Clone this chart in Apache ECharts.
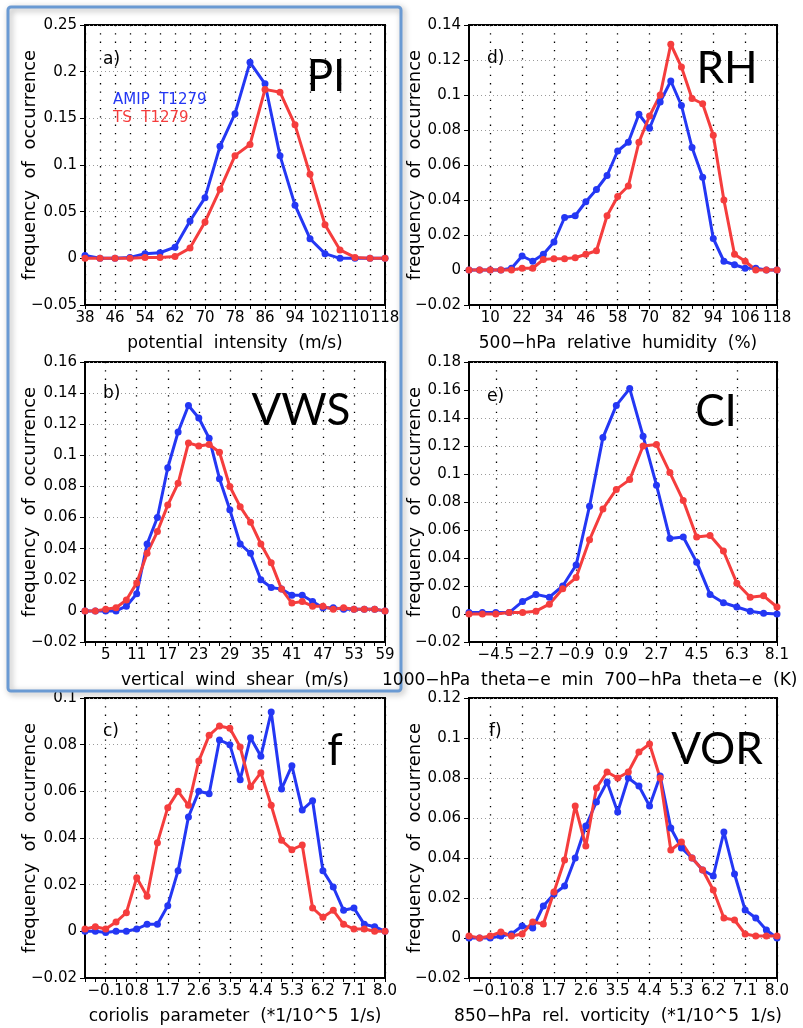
<!DOCTYPE html>
<html>
<head>
<meta charset="utf-8">
<script src="https://cdn.jsdelivr.net/npm/echarts@6/dist/echarts.min.js"></script>
<style>
  html, body { margin: 0; padding: 0; background: #fff; }
  #chart { width: 803px; height: 1028px; }
</style>
</head>
<body>
<div id="chart"></div>
<script>
// bins (x categories) of each histogram
const piBins = ['38','42','46','50','54','58','62','66','70','74','78','82','86','90','94','98','102','106','110','114','118'];
const piLabels = ['38','46','54','62','70','78','86','94','102','110','118'];
const piAmip = [0.003,0,0,0.001,0.005,0.006,0.012,0.04,0.065,0.12,0.155,0.21,0.187,0.11,0.057,0.021,0.005,0,0,0,0];
const piTs = [0,0,0,0,0.001,0.001,0.002,0.011,0.039,0.074,0.11,0.122,0.181,0.178,0.143,0.09,0.036,0.009,0.001,0,0];

const rhBins = ['2','6','10','14','18','22','26','30','34','38','42','46','50','54','58','62','66','70','74','78','82','86','90','94','98','102','106','110','114','118'];
const rhLabels = ['10','22','34','46','58','70','82','94','106','118'];
const rhAmip = [0,0,0,0,0.001,0.008,0.005,0.009,0.016,0.03,0.031,0.039,0.046,0.054,0.068,0.073,0.089,0.081,0.096,0.108,0.094,0.07,0.053,0.018,0.005,0.003,0.001,0.001,0,0];
const rhTs = [0,0,0,0,0,0.001,0.001,0.006,0.0065,0.0065,0.007,0.009,0.011,0.031,0.042,0.048,0.073,0.088,0.1,0.129,0.116,0.098,0.095,0.077,0.04,0.009,0.005,0,0,0];

const vwsBins = ['1','3','5','7','9','11','13','15','17','19','21','23','25','27','29','31','33','35','37','39','41','43','45','47','49','51','53','55','57','59'];
const vwsLabels = ['5','11','17','23','29','35','41','47','53','59'];
const vwsAmip = [0,0,0,0,0.003,0.011,0.043,0.06,0.092,0.115,0.132,0.124,0.111,0.085,0.065,0.043,0.037,0.02,0.015,0.014,0.01,0.01,0.006,0.002,0.002,0.001,0.001,0.001,0.001,0];
const vwsTs = [0,0,0.001,0.002,0.007,0.018,0.037,0.051,0.068,0.082,0.108,0.106,0.107,0.102,0.08,0.067,0.057,0.043,0.031,0.014,0.005,0.006,0.003,0.003,0.001,0.002,0.001,0.001,0.001,0];

const ciBins = ['-5.7','-5.1','-4.5','-3.9','-3.3','-2.7','-2.1','-1.5','-0.9','-0.3','0.3','0.9','1.5','2.1','2.7','3.3','3.9','4.5','5.1','5.7','6.3','6.9','7.5','8.1'];
const ciLabels = ['-4.5','-2.7','-0.9','0.9','2.7','4.5','6.3','8.1'];
const ciAmip = [0.001,0.001,0.001,0.001,0.009,0.014,0.012,0.02,0.035,0.077,0.126,0.149,0.161,0.127,0.092,0.054,0.055,0.037,0.014,0.008,0.005,0.002,0.0005,0];
const ciTs = [0,0,0,0.001,0.001,0.002,0.007,0.018,0.026,0.053,0.075,0.089,0.096,0.12,0.121,0.101,0.081,0.055,0.056,0.045,0.022,0.012,0.013,0.005];

const vortBins = ['-0.7','-0.4','-0.1','0.2','0.5','0.8','1.1','1.4','1.7','2.0','2.3','2.6','2.9','3.2','3.5','3.8','4.1','4.4','4.7','5.0','5.3','5.6','5.9','6.2','6.5','6.8','7.1','7.4','7.7','8.0'];
const vortLabels = ['-0.1','0.8','1.7','2.6','3.5','4.4','5.3','6.2','7.1','8.0'];
const corAmip = [0,0,-0.0005,0,0,0.001,0.003,0.003,0.011,0.026,0.049,0.06,0.059,0.082,0.08,0.065,0.083,0.075,0.094,0.061,0.071,0.052,0.056,0.026,0.019,0.009,0.01,0.003,0.002,0];
const corTs = [0.001,0.002,0.001,0.004,0.008,0.023,0.015,0.038,0.053,0.06,0.054,0.073,0.084,0.088,0.087,0.079,0.062,0.068,0.054,0.039,0.035,0.037,0.01,0.006,0.009,0.003,0.001,0.001,0,0];
const vorAmip = [0,0,0,0.001,0.002,0.006,0.005,0.016,0.022,0.026,0.04,0.056,0.068,0.078,0.063,0.08,0.076,0.066,0.081,0.055,0.045,0.04,0.034,0.031,0.053,0.032,0.014,0.01,0.004,0];
const vorTs = [0.001,0,0.001,0.003,0.001,0.002,0.008,0.007,0.023,0.039,0.066,0.046,0.075,0.083,0.08,0.083,0.093,0.097,0.08,0.044,0.048,0.04,0.034,0.024,0.01,0.009,0.002,0.001,0.001,0.001];

const BLUE = '#2437f4';
const RED = '#f53d3d';
const FONT = 'DejaVu Sans';

// panel layout: grid box, y range, labels
const panels = [
  { bins: piBins, labels: piLabels, amip: piAmip, ts: piTs, ymin: -0.05, ymax: 0.25, ystep: 0.05,
    left: 85, top: 25, width: 300, allSplit: true },
  { bins: rhBins, labels: rhLabels, amip: rhAmip, ts: rhTs, ymin: -0.02, ymax: 0.14, ystep: 0.02,
    left: 469, top: 25, width: 308 },
  { bins: vwsBins, labels: vwsLabels, amip: vwsAmip, ts: vwsTs, ymin: -0.02, ymax: 0.16, ystep: 0.02,
    left: 85, top: 362, width: 300 },
  { bins: ciBins, labels: ciLabels, amip: ciAmip, ts: ciTs, ymin: -0.02, ymax: 0.18, ystep: 0.02,
    left: 469, top: 362, width: 308 },
  { bins: vortBins, labels: vortLabels, amip: corAmip, ts: corTs, ymin: -0.02, ymax: 0.1, ystep: 0.02,
    left: 85, top: 698, width: 300 },
  { bins: vortBins, labels: vortLabels, amip: vorAmip, ts: vorTs, ymin: -0.02, ymax: 0.12, ystep: 0.02,
    left: 469, top: 698, width: 308 }
];

const minus = (s) => String(s).replace('-', '\u2212');

const grid = [], xAxis = [], yAxis = [], series = [];
panels.forEach((p, i) => {
  grid.push({
    left: p.left, top: p.top, width: p.width, height: 280,
    show: true, borderColor: '#000', borderWidth: 2, backgroundColor: 'transparent'
  });
  const showIt = (idx, val) => p.labels.indexOf(val) >= 0;
  xAxis.push({
    type: 'category', gridIndex: i, data: p.bins, boundaryGap: false,
    axisLine: { onZero: false, lineStyle: { color: '#000', width: 2 } },
    axisTick: { show: true, interval: 0, length: 4, lineStyle: { color: '#000', width: 1 } },
    axisLabel: { interval: showIt, formatter: minus, color: '#000', fontFamily: FONT, fontSize: 15, margin: 6 },
    splitLine: {
      show: true, interval: p.allSplit ? 0 : showIt,
      lineStyle: { color: '#000', width: 1.3, type: [1.3, 7] }
    }
  });
  yAxis.push({
    type: 'value', gridIndex: i, min: p.ymin, max: p.ymax, interval: p.ystep,
    axisLine: { show: true, lineStyle: { color: '#000', width: 2 } },
    axisTick: { show: true, length: 5, lineStyle: { color: '#000', width: 1 } },
    axisLabel: {
      color: '#000', fontFamily: FONT, fontSize: 15, margin: 8,
      formatter: (v) => minus(+v.toFixed(3))
    },
    splitLine: { show: true, lineStyle: { color: '#9a9a9a', width: 1, type: [1, 3] } }
  });
  [['AMIP T1279', p.amip, BLUE], ['TS T1279', p.ts, RED]].forEach(([name, data, col]) => {
    series.push({
      name: name, type: 'line', xAxisIndex: i, yAxisIndex: i, data: data,
      symbol: 'circle', symbolSize: 7, showSymbol: true, showAllSymbol: true,
      lineStyle: { color: col, width: 3 }, itemStyle: { color: col }
    });
  });
});

const txt = (x, y, text, opts) => ({
  type: 'text', x: x, y: y, z: 20,
  style: Object.assign({ text: text, fill: '#000', font: '17px "' + FONT + '"', textVerticalAlign: 'middle' }, opts || {})
});
const big = (x, y, text) => txt(x, y, text, { font: '44px Lato', textAlign: 'center' });
const lbl = '17px "' + FONT + '"';
// rotated y-axis title
const ytitle = (x, y) => Object.assign(txt(x, y, 'frequency  of  occurrence', { font: '18px "' + FONT + '"', textAlign: 'center' }), { rotation: Math.PI / 2 });

const graphic = [
  // blue highlight frame around panels a and b
  { type: 'rect', z: 15, shape: { x: 8, y: 7, width: 393, height: 684, r: 3 },
    style: { fill: 'none', stroke: '#6a9ad3', lineWidth: 3, shadowBlur: 6, shadowColor: 'rgba(0,0,0,0.35)', shadowOffsetX: 2, shadowOffsetY: 2 } },
  ytitle(30, 165), ytitle(30, 502), ytitle(30, 838),
  ytitle(415, 165), ytitle(415, 502), ytitle(415, 838),
  txt(103, 60, 'a)', { font: lbl }),
  txt(103, 394, 'b)', { font: lbl }),
  txt(103, 732, 'c)', { font: lbl }),
  txt(487, 59, 'd)', { font: lbl }),
  txt(487, 397, 'e)', { font: lbl }),
  txt(489, 732, 'f)', { font: lbl }),
  big(326, 77, 'PI'),
  big(301, 411, 'VWS'),
  big(335, 751, 'f'),
  big(727, 69, 'RH'),
  big(716, 412, 'CI'),
  big(717, 750, 'VOR'),
  txt(113, 100, 'AMIP  T1279', { fill: BLUE, font: '15px "' + FONT + '"' }),
  txt(113, 118, 'TS  T1279', { fill: RED, font: '15px "' + FONT + '"' }),
  txt(235, 344, 'potential  intensity  (m/s)', { textAlign: 'center' }),
  txt(618, 344, '500\u2212hPa  relative  humidity  (%)', { textAlign: 'center' }),
  txt(235, 681, 'vertical  wind  shear  (m/s)', { textAlign: 'center' }),
  txt(382, 681, '1000\u2212hPa  theta\u2212e  min  700\u2212hPa  theta\u2212e  (K)', { textAlign: 'left' }),
  txt(235, 1017, 'coriolis  parameter  (*1/10^5  1/s)', { textAlign: 'center' }),
  txt(618, 1017, '850\u2212hPa  rel.  vorticity  (*1/10^5  1/s)', { textAlign: 'center' })
];

const myChart = echarts.init(document.getElementById('chart'), null, { renderer: 'canvas' });
myChart.setOption({
  animation: false,
  backgroundColor: '#fff',
  grid: grid,
  xAxis: xAxis,
  yAxis: yAxis,
  series: series,
  graphic: graphic
});
</script>
</body>
</html>
